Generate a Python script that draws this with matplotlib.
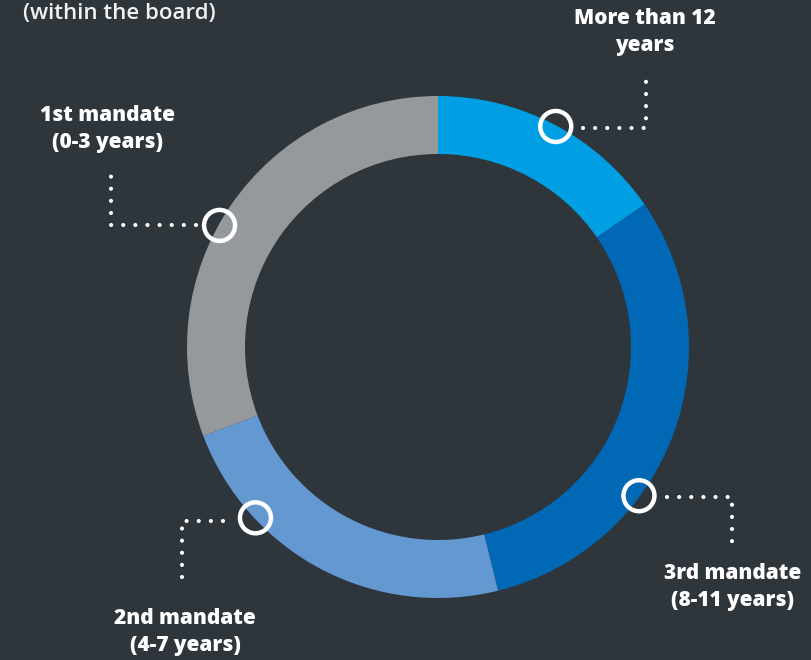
import numpy as np
import matplotlib.pyplot as plt

# board members by tenure (13 in total)
categories = ["More than 12\nyears", "3rd mandate\n(8-11 years)",
              "2nd mandate\n(4-7 years)", "1st mandate\n(0-3 years)"]
members = [2, 4, 3, 4]
colors = ["#009fe3", "#0068b4", "#6498d1", "#96999c"]
title = "(within the board)"

BG = "#2e353b"
CX, CY = 438, 347
R_OUT, WIDTH = 251, 58

fig = plt.figure(figsize=(8.12, 6.6), dpi=100, facecolor=BG)
ax = fig.add_axes([0, 0, 1, 1])
ax.set_facecolor(BG)

ax.pie(members, colors=colors, startangle=90, counterclock=False,
       center=(CX, 660 - CY), radius=R_OUT, frame=True,
       wedgeprops=dict(width=WIDTH, linewidth=0))

ax.set_xlim(0, 812)
ax.set_ylim(0, 660)
ax.set_aspect("equal")
ax.axis("off")

# marker angle (deg clockwise from top), leader path, label anchor
callouts = [
    (28.1, [(583, 128), (646, 128), (646, 70)], (645, 32)),
    (126.5, [(667, 497), (732, 497), (732, 548)], (733, 587)),
    (226.9, [(223, 521), (182, 521), (182, 588)], (185, 632)),
    (299.1, [(196, 225), (111, 225), (111, 167)], (108, 129)),
]

for label, (ang, path, (tx, ty)) in zip(categories, callouts):
    a = np.deg2rad(ang)
    mx = CX + (R_OUT - 1) * np.sin(a)
    my = CY - (R_OUT - 1) * np.cos(a)
    # flip y because axes run bottom-up
    ax.add_patch(plt.Circle((mx, 660 - my), 15.5, fill=False,
                            edgecolor="white", linewidth=3.2, zorder=5))
    xs = [p[0] for p in path]
    ys = [660 - p[1] for p in path]
    ax.plot(xs, ys, color="white", linewidth=3.0,
            linestyle=(0, (0.01, 2.9)), dash_capstyle="round", zorder=4)
    ax.text(tx, 660 - ty, label, color="white", fontsize=15,
            fontweight="heavy", family="Open Sans", ha="center", va="center",
            linespacing=1.35)

ax.text(23, 660 - 13, title, color="#f2f2f2", fontsize=16,
        fontweight="semibold", family="Open Sans", ha="left", va="center")

fig.savefig("out.png", dpi=100, facecolor=BG)
